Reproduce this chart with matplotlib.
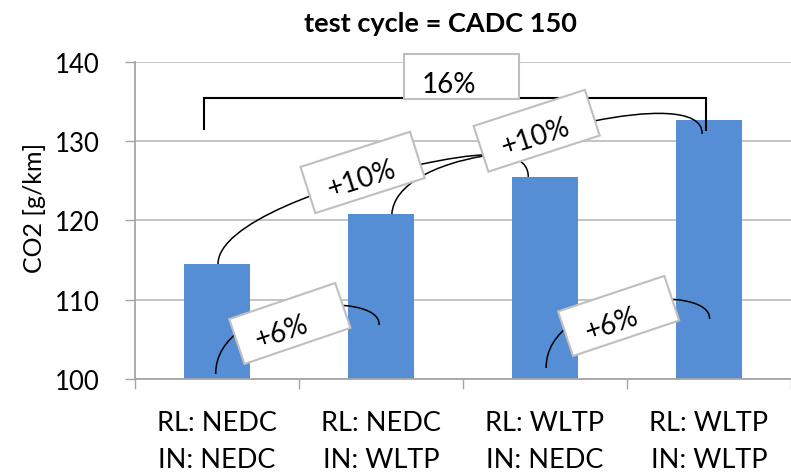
import numpy as np
import matplotlib.pyplot as plt
from matplotlib.patches import Rectangle, PathPatch
from matplotlib.path import Path
from matplotlib.transforms import Affine2D, ScaledTranslation

plt.rcParams['font.family'] = ['Lato', 'DejaVu Sans']

# data
categories = ['RL: NEDC\nIN: NEDC', 'RL: NEDC\nIN: WLTP',
              'RL: WLTP\nIN: NEDC', 'RL: WLTP\nIN: WLTP']
co2 = [114.5, 120.8, 125.5, 132.7]
step_labels = ['+10%', '+10%', '+6%', '+6%']
total_label = '16%'
yticks = [100, 110, 120, 130, 140]

fig = plt.figure(figsize=(7.91, 4.77), dpi=100)
ax = fig.add_axes([0.1707, 0.2034, 0.8293, 0.6646])

x = np.arange(len(categories))
ax.bar(x, co2, width=0.4, color='#558ED5', zorder=2)

ax.set_xlim(-0.5, 3.452)
ax.set_ylim(100, 140)
ax.set_yticks(yticks)
ax.set_xticks(x, categories)
ax.set_xticks(np.arange(-0.5, len(categories), 1), minor=True)

ax.yaxis.grid(True, color='#BFBFBF', lw=1.3)
ax.set_axisbelow(True)
for s in ['top', 'right']:
    ax.spines[s].set_visible(False)
for s in ['left', 'bottom']:
    ax.spines[s].set_color('#A6A6A6')
    ax.spines[s].set_linewidth(1.3)

ax.tick_params(axis='y', length=7.2, width=1, color='#A6A6A6', pad=18, labelsize=18.5)
ax.tick_params(axis='x', which='major', length=0, pad=22, labelsize=19.5)
ax.tick_params(axis='x', which='minor', length=7.2, width=1, color='#A6A6A6')
for lab in ax.get_xticklabels():
    lab.set_linespacing(1.62)

ax.set_ylabel('CO2 [g/km]', fontsize=18)
ax.yaxis.set_label_coords(-0.135, 0.5426)

fig.text(0.5563, 0.9329, 'test cycle = CADC 150', ha='center', va='baseline',
         fontsize=19.5, fontweight='bold')

# connecting curves (cubic bezier, data coords)
C = Path.CURVE4
arcs = [
    [(0.006, co2[0]), (0.006, 119.56), (0.675, 124.61), (1.253, 127.13),
     (1.518, 128.26), (1.898, 129.65), (1.898, co2[2])],
    [(1.066, co2[1]), (1.078, 124.61), (1.337, 127.13), (1.627, 128.14),
     (1.916, 129.15), (2.060, 131.80), (2.301, 132.56),
     (2.602, 133.82), (2.964, 134.32), (2.958, 130.91)],
    [(-0.008, 100.63), (-0.012, 110.09), (1.006, 111.36), (0.988, 106.81)],
    [(2.007, 101.39), (2.003, 110.85), (3.021, 112.12), (3.003, 107.57)],
]
for verts in arcs:
    codes = [Path.MOVETO] + [C] * (len(verts) - 1)
    ax.add_patch(PathPatch(Path(verts, codes), fill=False, lw=1.1,
                           edgecolor='black', zorder=3))

# bracket for the total increase
ax.plot([-0.082, -0.082, 2.982, 2.982], [131.55, 135.46, 135.46, 131.42],
        color='black', lw=1.5, zorder=3, solid_joinstyle='miter')
ax.add_patch(Rectangle((1.139, 135.33), 0.704, 5.68, fc='white', ec='#BFBFBF',
                       lw=1.5, zorder=4, clip_on=False))
ax.text(1.416, 137.16, total_label, ha='center', va='center', fontsize=20, zorder=5)

# rotated label boxes: centre (data), angle, size (px), text offset (px, local)
boxes = [
    (0.888, 126.06, 17.8, 115, 48.5, -3, -6),
    (1.949, 131.32, 18.0, 117, 48.0, -3, -5),
    (0.444, 107.00, 18.8, 112, 47.4, -10, -5),
    (2.449, 107.95, 18.5, 112, 47.0, -9, -5),
]
for lab, (xc, yc, ang, w, h, ox, oy) in zip(step_labels, boxes):
    tr = Affine2D().rotate_deg(ang) + ScaledTranslation(xc, yc, ax.transData)
    ax.add_patch(Rectangle((-w / 2, -h / 2), w, h, transform=tr, fc='white',
                           ec='#BFBFBF', lw=1.5, zorder=4, clip_on=False))
    ax.text(ox, oy, lab, transform=tr, rotation=ang, rotation_mode='anchor',
            ha='center', va='center', fontsize=20, zorder=5)

fig.savefig('out.png', dpi=100)
